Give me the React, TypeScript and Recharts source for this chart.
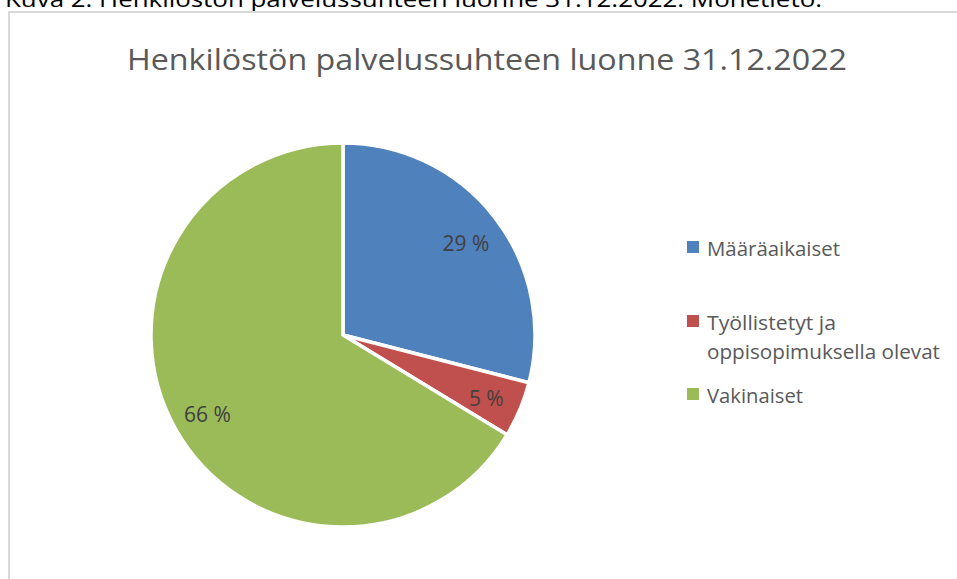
import React from "react";
import { PieChart, Pie, Cell, Legend } from "recharts";

const categories = ["Määräaikaiset", "Työllistetyt ja oppisopimuksella olevat", "Vakinaiset"];
const values = [29.0, 4.7, 66.3];
const colors = ["#4F81BD", "#C0504D", "#9BBB59"];
const legendLines: string[][] = [["Määräaikaiset"], ["Työllistetyt ja", "oppisopimuksella olevat"], ["Vakinaiset"]];
const legendLineWidths: number[][] = [[133], [129, 233], [96]];
const legendOffsets = [0, 74, 147];

const data = categories.map((name, i) => ({ name, value: values[i] }));

const FONT = "'Open Sans', 'Noto Sans', sans-serif";
const RADIAN = Math.PI / 180;

const renderLabel = (props: any) => {
  const { cx, cy, midAngle, outerRadius, percent } = props;
  const r = outerRadius * 0.81;
  const x = cx + r * Math.cos(-midAngle * RADIAN);
  const y = cy + r * Math.sin(-midAngle * RADIAN) + 3;
  return (
    <text x={x} y={y} fill="#404040" fontSize={21} fontFamily={FONT} textAnchor="middle" dominantBaseline="central">
      {`${Math.round(percent * 100)} %`}
    </text>
  );
};

const renderLegend = (props: any) => {
  const payload = props.payload || [];
  return (
    <svg width={260} height={175} style={{ display: "block", overflow: "visible" }}>
      {payload.map((p: any, i: number) => (
        <g key={i} transform={`translate(0, ${legendOffsets[i]})`}>
          <rect x={0} y={0} width={12} height={12} fill={p.color} />
          {legendLines[i].map((line, j) => (
            <text
              key={j}
              x={20}
              y={15 + j * 29}
              fontSize={20.5}
              fill="#595959"
              fontFamily={FONT}
              textLength={legendLineWidths[i][j]}
              lengthAdjust="spacingAndGlyphs"
            >
              {line}
            </text>
          ))}
        </g>
      ))}
    </svg>
  );
};

export default function App() {
  return (
    <div style={{ position: "absolute", left: 0, top: 0, width: 957, height: 579, overflow: "hidden", background: "#fff" }}>
      <svg width={957} height={30} style={{ position: "absolute", left: 0, top: 0 }}>
        <text x={5} y={7} fontSize={22} fill="#000" fontFamily={FONT} textLength={817} lengthAdjust="spacingAndGlyphs">
          Kuva 2. Henkilöstön palvelussuhteen luonne 31.12.2022. Monetieto.
        </text>
      </svg>
      <div
        style={{
          position: "absolute",
          left: 8,
          top: 11,
          width: 949,
          height: 568,
          borderLeft: "2px solid #d9d9d9",
          borderTop: "2px solid #d9d9d9",
          boxSizing: "border-box",
        }}
      />
      <svg width={957} height={100} style={{ position: "absolute", left: 0, top: 0 }}>
        <text x={487} y={70} fontSize={30} fill="#595959" fontFamily={FONT} textAnchor="middle" textLength={720} lengthAdjust="spacingAndGlyphs">
          Henkilöstön palvelussuhteen luonne 31.12.2022
        </text>
      </svg>
      <div style={{ position: "absolute", left: 0, top: 0 }}>
        <PieChart width={957} height={579} margin={{ top: 0, right: 0, bottom: 0, left: 0 }}>
          <Pie
            data={data}
            dataKey="value"
            nameKey="name"
            cx={343}
            cy={335}
            outerRadius={192}
            startAngle={90}
            endAngle={-270}
            stroke="#ffffff"
            strokeWidth={3.5}
            label={renderLabel}
            labelLine={false}
            isAnimationActive={false}
          >
            {data.map((d, i) => (
              <Cell key={d.name} fill={colors[i]} />
            ))}
          </Pie>
          <Legend
            content={renderLegend}
            wrapperStyle={{ position: "absolute", left: 687, top: 241, width: 260, height: 175 }}
          />
        </PieChart>
      </div>
    </div>
  );
}
